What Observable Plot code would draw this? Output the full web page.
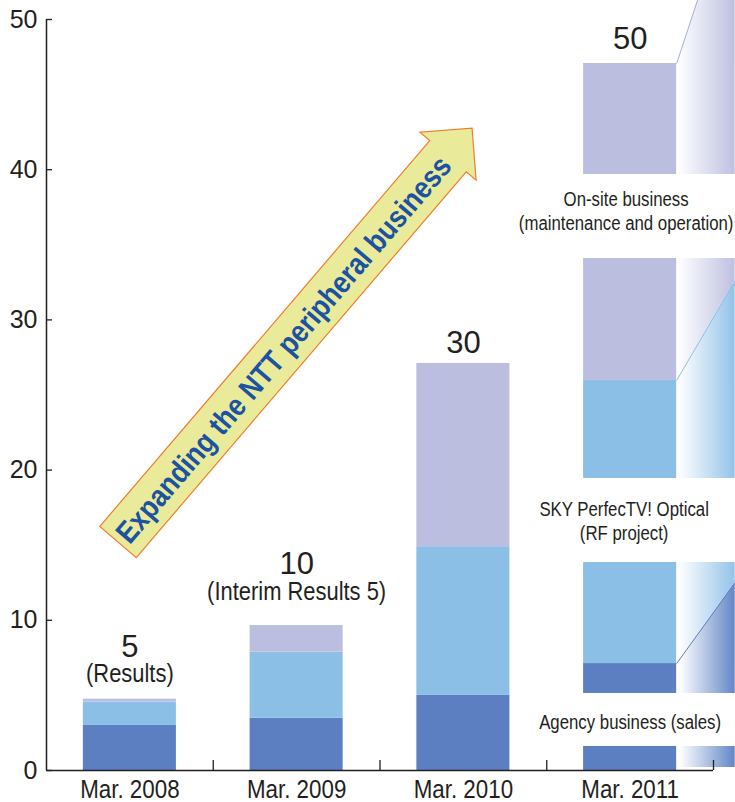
<!DOCTYPE html>
<html><head><meta charset="utf-8">
<script src="https://cdn.jsdelivr.net/npm/d3@7"></script>
<script src="https://cdn.jsdelivr.net/npm/@observablehq/plot@0.6"></script>
<style>
html,body{margin:0;padding:0;background:#fff;}
#chart svg{display:block;}
</style></head><body><div id="chart"></div>
<script>
// ---------- data ----------
const periods = ["Mar. 2008", "Mar. 2009", "Mar. 2010", "Mar. 2011"];
const agencyValues = [3.0, 3.48, 5.0];     // Agency business (sales)
const skyValues = [1.55, 4.4, 9.9];        // SKY PerfecTV! Optical (RF project)
const onsiteValues = [0.2, 1.77, 12.2];    // On-site business (maintenance and operation)
const totalLabels = ["5", "10", "30", "50"];
const noteLabels = ["(Results)", "(Interim Results 5)", "", ""];
// Mar. 2011 target: drawn as a broken bar (series index, low, high)
const planSeries = [0, 0, 1, 1, 2, 2];
const planLow = [0, 5.13, 7.12, 19.44, 25.97, 39.68];
const planHigh = [1.6, 7.12, 13.85, 25.97, 34.09, 47.07];
const planLabels = ["Agency business (sales)", "SKY PerfecTV! Optical\n(RF project)", "On-site business\n(maintenance and operation)"];
// growth wedges continuing right of the Mar. 2011 bar
const wedgeSeries = [2, 2, 1, 1, 0, 0];
const wedgeLowStart = [39.68, 25.97, 19.44, 7.12, 5.13, 0.2];
const wedgeHighStart = [47.07, 34.09, 25.97, 13.85, 7.12, 1.6];
const wedgeLowEnd = [39.68, 32.62, 19.44, 12.52, 5.13, 0.2];
const wedgeHighEnd = [58.85, 34.09, 32.62, 13.85, 12.52, 1.6];
const wedgeEnd = 4.13;
const yTicks = [0, 10, 20, 30, 40, 50];
const arrowLabel = "Expanding the NTT peripheral business";
const arrowFrom = [0.432, 15.18];
const arrowTo = [2.555, 42.74];

// ---------- style ----------
const colors = ["#5b7fc1", "#8bbfe6", "#bbbedf"];
const gradientEnds = ["#6486c6", "#93c3e9", "#bec0e1"];
const diagColors = ["#5b7fc1", "#8bbfe6", "#a9aedc"];
const ink = "#231f20";
const narrowA = "'Liberation Sans Narrow', 'Liberation Sans', sans-serif";
const narrowB = "'Arial Narrow', 'Liberation Sans', sans-serif";
const condenseFactor = {[narrowA]: 0.86, [narrowB]: 0.8};
const regular = "'Liberation Sans', Arial, sans-serif";
const half = 0.279;
const totalDy = [-42, -52, -10, -15];
const noteDy = [-17, -26, 0, 0];
const planLabelDy = [1, 0, -6];
const planLabelDx = [0, -6, -4];

// ---------- derived tables ----------
const barRows = [];
[0, 1, 2].forEach(i => {
  let base = 0;
  [agencyValues, skyValues, onsiteValues].forEach((arr, s) => {
    barRows.push({i, s, y1: base, y2: base + arr[i]});
    base += arr[i];
  });
});
planSeries.forEach((s, j) => barRows.push({i: 3, s, y1: planLow[j], y2: planHigh[j]}));
const tops = [0, 1, 2].map(i => agencyValues[i] + skyValues[i] + onsiteValues[i]).concat([d3.max(planHigh)]);
const planGapY = [0, 1, 2].map(k => (planHigh[2 * k] + planLow[2 * k + 1]) / 2);
const wedgeRows = [];
wedgeSeries.forEach((s, k) => {
  wedgeRows.push({k, s, px: 3.5 + half, lo: wedgeLowStart[k], hi: wedgeHighStart[k]});
  wedgeRows.push({k, s, px: wedgeEnd, lo: wedgeLowEnd[k], hi: wedgeHighEnd[k]});
});
const diagRows = wedgeSeries.map((s, k) => ({k, s})).filter(d => wedgeHighStart[d.k] !== wedgeHighEnd[d.k]);

// ---------- helpers ----------
const NS = "http://www.w3.org/2000/svg";
function el(name, attrs, parent) {
  const e = document.createElementNS(NS, name);
  for (const k in attrs) e.setAttribute(k, attrs[k]);
  if (parent) parent.appendChild(e);
  return e;
}
const gradientDefs = () => {
  const defs = el("defs", {});
  gradientEnds.forEach((c, s) => {
    const g = el("linearGradient", {id: `wedge-${s}`, x1: "0", y1: "0", x2: "1", y2: "0"}, defs);
    el("stop", {offset: "0", "stop-color": "#ffffff"}, g);
    el("stop", {offset: "0.08", "stop-color": "#fbfcfe"}, g);
    el("stop", {offset: "1", "stop-color": c}, g);
  });
  return defs;
};
const arrowMark = (index, scales) => {
  const sx = scales.x, sy = scales.y;
  const g = el("g", {});
  const x0 = sx(arrowFrom[0]), y0 = sy(arrowFrom[1]), x1 = sx(arrowTo[0]), y1 = sy(arrowTo[1]);
  const L = Math.hypot(x1 - x0, y1 - y0), a = Math.atan2(y1 - y0, x1 - x0) * 180 / Math.PI;
  const inner = el("g", {transform: `translate(${x0},${y0}) rotate(${a})`}, g);
  const sw = 24, hw = 37, hl = 37;
  const pts = [[0, -sw], [L - hl, -sw], [L - hl, -hw], [L, 0], [L - hl, hw], [L - hl, sw], [0, sw]];
  el("polygon", {points: pts.map(p => p.join(",")).join(" "), fill: "#e9eb9b", stroke: "#ef7d2c", "stroke-width": 1.2}, inner);
  const t = el("text", {x: (L - hl) / 2, y: 0, dy: "0.36em", "text-anchor": "middle", fill: "#1b52a2",
    "font-family": regular, "font-weight": "bold", "font-size": 30.5,
    textLength: (L - hl) * 0.98, lengthAdjust: "spacingAndGlyphs"}, inner);
  t.textContent = arrowLabel;
  return g;
};

// ---------- marks ----------
const marks = [
  gradientDefs,
  ...[0, 1, 2].map(s => Plot.areaY(wedgeRows.filter(d => d.s === s), {x: "px", y1: "lo", y2: "hi", z: "k", fill: `url(#wedge-${s})`})),
  Plot.link(diagRows, {x1: 3.5 + half, x2: wedgeEnd, y1: d => wedgeHighStart[d.k], y2: d => wedgeHighEnd[d.k], stroke: d => diagColors[d.s], strokeWidth: 1}),
  Plot.rect(barRows, {x1: d => d.i + 0.5 - half, x2: d => d.i + 0.5 + half, y1: "y1", y2: "y2", fill: d => colors[d.s]}),
  Plot.ruleX([0], {y1: 0, y2: 50, stroke: ink, strokeWidth: 1.5}),
  Plot.ruleY([0], {x1: 0, x2: 4, stroke: ink, strokeWidth: 1.5}),
  Plot.axisY({ticks: yTicks, tickSize: 0, tickPadding: 9, fontSize: 25, fontFamily: regular, fill: ink, label: null}),
  Plot.axisY({ticks: yTicks, tickSize: 6, dx: 6, tickFormat: () => "", stroke: ink, strokeWidth: 1.3, label: null}),
  Plot.axisX({ticks: [1, 2, 3, 4], tickSize: 10, dy: -10, tickFormat: () => "", stroke: ink, strokeWidth: 1.3, label: null}),
  Plot.axisX({ticks: [0.5, 1.5, 2.5, 3.5], tickFormat: d => periods[Math.floor(d)], tickSize: 0, tickPadding: 9, fontSize: 26, fontFamily: narrowA, fill: ink, label: null}),
  ...periods.map((p, i) => Plot.text([i], {x: i + 0.5, y: tops[i], text: () => totalLabels[i], lineAnchor: "bottom", dy: totalDy[i], fontSize: 31, fontFamily: regular, fill: ink})),
  ...periods.map((p, i) => noteLabels[i] ? Plot.text([i], {x: i + 0.5, y: tops[i], text: () => noteLabels[i], lineAnchor: "bottom", dy: noteDy[i], fontSize: 25.5, fontFamily: narrowA, fill: ink}) : null).filter(Boolean),
  ...planLabels.map((lab, k) => Plot.text([k], {x: 3.5, y: planGapY[k], text: () => lab, lineAnchor: "middle", lineHeight: 1.15, dx: planLabelDx[k], dy: planLabelDy[k], fontSize: 21, fontFamily: narrowB, fill: ink})),
  arrowMark
];

const chart = Plot.plot({
  width: 735, height: 802,
  marginLeft: 46, marginRight: 22, marginTop: 19, marginBottom: 32,
  x: {domain: [0, 4], label: null},
  y: {domain: [0, 50], label: null},
  style: {fontFamily: regular, background: "#fff", color: ink},
  marks
});
// condensed typeface look: compress glyphs horizontally around each text's anchor
chart.querySelectorAll("text").forEach(t => {
  let n = t, fam = null;
  while (n && n !== chart) {
    if (n.getAttribute && n.getAttribute("font-family")) { fam = n.getAttribute("font-family"); break; }
    n = n.parentNode;
  }
  const f = condenseFactor[fam];
  if (f && t.getAttribute("transform")) t.setAttribute("transform", t.getAttribute("transform") + ` scale(${f},1)`);
});
document.getElementById("chart").appendChild(chart);
</script></body></html>
